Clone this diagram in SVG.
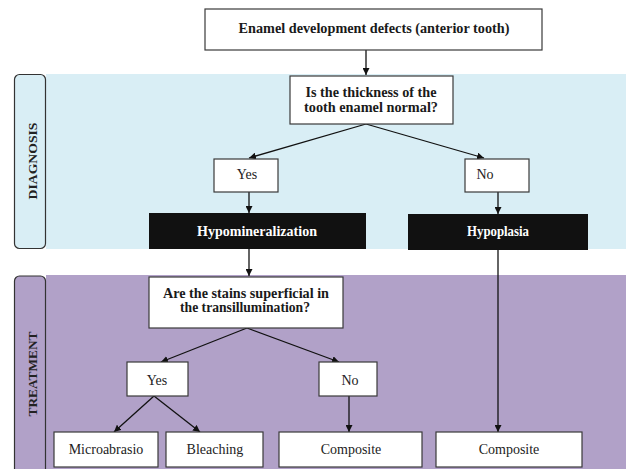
<svg xmlns="http://www.w3.org/2000/svg" width="626" height="469" viewBox="0 0 626 469">
<style>
.box{fill:#fff;stroke:#3a3a3a;stroke-width:1.2}
.dark{fill:#111;stroke:none}
.b{font-family:"Liberation Serif","Times New Roman",serif;font-weight:bold;font-size:14px;fill:#1a1a1a;text-anchor:middle}
.w{font-family:"Liberation Serif","Times New Roman",serif;font-weight:bold;font-size:14px;fill:#fff;text-anchor:middle}
.r{font-family:"Liberation Serif","Times New Roman",serif;font-size:14px;fill:#222;text-anchor:middle}
.lbl{font-family:"Liberation Serif","Times New Roman",serif;font-weight:bold;font-size:13px;fill:#222;text-anchor:middle}
.c{stroke:#111;stroke-width:1.3;fill:none;marker-end:url(#ah)}
.panel{stroke:#333;stroke-width:1.2}
</style>
<defs>
<marker id="ah" viewBox="0 0 10 10" refX="10" refY="5" markerWidth="7" markerHeight="7" markerUnits="userSpaceOnUse" orient="auto">
<path d="M0,0 L10,5 L0,10 z" fill="#111"/>
</marker>
</defs>
<rect width="626" height="469" fill="#fff"/>
<g id="band-diagnosis">
<rect x="46" y="74" width="580" height="175" fill="#d9eef5"/>
<rect class="panel" x="14.5" y="74.5" width="31" height="174" rx="5" fill="#d9eef5"/>
<text class="lbl" transform="translate(37,161) rotate(-90)" textLength="77" lengthAdjust="spacingAndGlyphs">DIAGNOSIS</text>
</g>
<g id="band-treatment">
<rect x="46" y="275" width="580" height="194" fill="#b1a1c8"/>
<path class="panel" d="M14.5,472 V281 a5,5 0 0 1 5,-5 H40.5 a5,5 0 0 1 5,5 V472" fill="#b1a1c8"/>
<text class="lbl" transform="translate(37,374) rotate(-90)" textLength="85" lengthAdjust="spacingAndGlyphs">TREATMENT</text>
</g>
<g id="connectors">
<line class="c" x1="366" y1="50" x2="366" y2="75"/>
<line class="c" x1="366" y1="124" x2="249" y2="158"/>
<line class="c" x1="366" y1="124" x2="484" y2="158"/>
<line class="c" x1="249" y1="192" x2="249" y2="213"/>
<line class="c" x1="498" y1="192" x2="498" y2="214"/>
<line class="c" x1="249" y1="249" x2="249" y2="276"/>
<line class="c" x1="498" y1="250" x2="498" y2="432"/>
<line class="c" x1="247" y1="328" x2="161" y2="362"/>
<line class="c" x1="247" y1="328" x2="339" y2="362"/>
<line class="c" x1="154" y1="396" x2="114" y2="432"/>
<line class="c" x1="154" y1="396" x2="200" y2="432"/>
<line class="c" x1="349" y1="396" x2="349" y2="432"/>
</g>
<g id="n-top">
<rect class="box" x="205" y="9" width="337" height="41"/>
<text class="b" x="374" y="33" textLength="271" lengthAdjust="spacingAndGlyphs">Enamel development defects (anterior tooth)</text>
</g>
<g id="n-q1">
<rect class="box" x="290" y="76" width="163" height="48"/>
<text class="b" x="371" y="97" textLength="131" lengthAdjust="spacingAndGlyphs">Is the thickness of the</text>
<text class="b" x="371" y="112" textLength="134" lengthAdjust="spacingAndGlyphs">tooth enamel normal?</text>
</g>
<g id="n-yes1">
<rect class="box" x="214" y="159" width="64" height="33"/>
<text class="r" x="247" y="179">Yes</text>
</g>
<g id="n-no1">
<rect class="box" x="465" y="159" width="64" height="33"/>
<text class="r" x="485" y="179">No</text>
</g>
<g id="n-hypomin">
<rect class="dark" x="149" y="213" width="217" height="36"/>
<text class="w" x="257" y="236" textLength="120" lengthAdjust="spacingAndGlyphs">Hypomineralization</text>
</g>
<g id="n-hypoplasia">
<rect class="dark" x="408" y="214" width="180" height="36"/>
<text class="w" x="498" y="236" textLength="62" lengthAdjust="spacingAndGlyphs">Hypoplasia</text>
</g>
<g id="n-q2">
<rect class="box" x="149" y="277" width="194" height="51"/>
<text class="b" x="246" y="298" textLength="166" lengthAdjust="spacingAndGlyphs">Are the stains superficial in</text>
<text class="b" x="245" y="312" textLength="130" lengthAdjust="spacingAndGlyphs">the transillumination?</text>
</g>
<g id="n-yes2">
<rect class="box" x="127" y="362" width="61" height="34"/>
<text class="r" x="157" y="385">Yes</text>
</g>
<g id="n-no2">
<rect class="box" x="319" y="362" width="58" height="34"/>
<text class="r" x="350" y="385">No</text>
</g>
<g id="n-micro">
<rect class="box" x="54" y="432" width="104" height="35"/>
<text class="r" x="106" y="454">Microabrasio</text>
</g>
<g id="n-bleach">
<rect class="box" x="166" y="432" width="97" height="35"/>
<text class="r" x="215" y="454">Bleaching</text>
</g>
<g id="n-comp1">
<rect class="box" x="279" y="432" width="143" height="35"/>
<text class="r" x="351" y="454">Composite</text>
</g>
<g id="n-comp2">
<rect class="box" x="436" y="432" width="146" height="35"/>
<text class="r" x="509" y="454">Composite</text>
</g>
</svg>
